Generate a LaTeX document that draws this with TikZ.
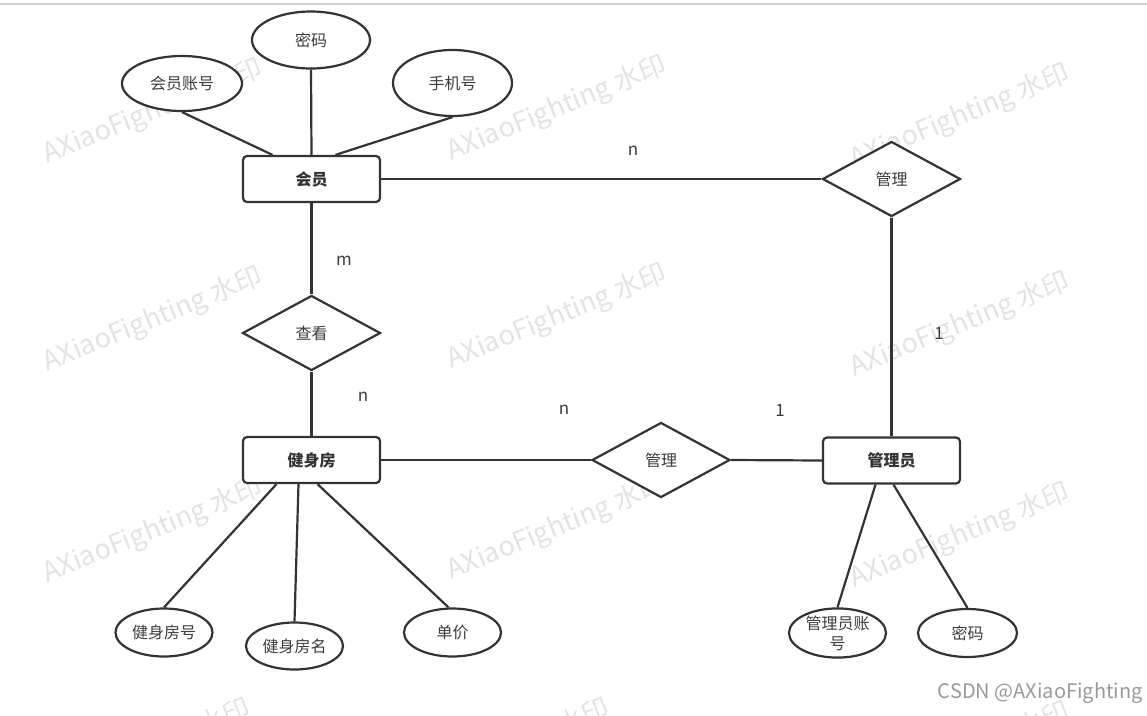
\documentclass[tikz,border=0pt]{standalone}
\usepackage{fontspec}
\newfontfamily\cjk{Noto Sans CJK SC}
\usetikzlibrary{shapes.geometric}
\definecolor{ink}{HTML}{333333}
\definecolor{txt}{HTML}{3C3C3C}
\definecolor{wmc}{HTML}{E3E3E3}
\definecolor{rule}{HTML}{CFCFCF}
\begin{document}
\begin{tikzpicture}[x=1pt,y=-1pt,
  lbl/.style={font=\cjk\fontsize{16pt}{20pt}\selectfont, text=txt},
  entity/.style={lbl, draw=ink, line width=2.2pt, rounded corners=4pt, fill=white,
    minimum width=137pt, minimum height=46pt, inner sep=0pt, font=\cjk\bfseries\fontsize{16pt}{20pt}\selectfont, text=ink},
  attr/.style={lbl, ellipse, draw=ink, line width=2.2pt, fill=white, inner sep=0pt},
  rel/.style={lbl, diamond, draw=ink, line width=2.2pt, fill=white, inner sep=0pt,
    minimum width=138pt, minimum height=75pt},
  card/.style={font=\cjk\fontsize{17pt}{20pt}\selectfont, text=txt, inner sep=0pt},
  link/.style={draw=ink, line width=2.2pt},
  wmark/.style={font=\cjk\fontsize{27pt}{30pt}\selectfont, text=wmc, rotate=22, inner sep=0pt}
]
\useasboundingbox (0,0) rectangle (1147,715);
% watermarks
\begin{scope}
\clip (0,0) rectangle (1147,715);
\foreach \cx/\dy in {153/0, 557/-3, 960/5}{
  \foreach \ry in {112, 320, 531}{
    \node[wmark] at (\cx,\ry+\dy) {AXiaoFighting 水印};
  }
}
\node[wmark] (w41) at (141,752) {AXiaoFighting 水印};
\node[wmark] (w42) at (500,752) {AXiaoFighting 水印};
\node[wmark] (w43) at (960,755) {AXiaoFighting 水印};
\end{scope}
% top rule
\draw[rule, line width=1.5pt] (0,4) -- (1147,4);

% entities
\node[entity] (member) at (311.5,179) {会员};
\node[entity] (gym) at (311.5,460) {健身房};
\node[entity] (admin) at (891.5,460.5) {管理员};

% relationships
\node[rel] (manage1) at (891.5,179) {管理};
\node[rel] (view) at (311.5,333) {查看};
\node[rel] (manage2) at (661,460) {管理};

% attributes
\node[attr, minimum width=118pt, minimum height=57pt] (mpwd) at (311,40) {密码};
\node[attr, minimum width=120pt, minimum height=55pt] (macct) at (182,83.5) {会员账号};
\node[attr, minimum width=119pt, minimum height=66pt] (mphone) at (452.5,83) {手机号};
\node[attr, minimum width=97pt, minimum height=48pt] (gno) at (164,632.5) {健身房号};
\node[attr, minimum width=97pt, minimum height=47pt] (gname) at (294.5,646) {健身房名};
\node[attr, minimum width=97pt, minimum height=48pt] (gprice) at (452.5,632.5) {单价};
\node[attr, minimum width=97pt, minimum height=48pt, align=center,
  font=\cjk\fontsize{16pt}{20pt}\selectfont] (aacct) at (837.5,633) {管理员账\\号};
\node[attr, minimum width=99pt, minimum height=48pt] (apwd) at (967.5,633) {密码};

% connectors
\draw[link] (macct.south) -- ([xshift=-39pt]member.north);
\draw[link] (mpwd.south) -- (member.north);
\draw[link] (mphone.south) -- ([xshift=24pt]member.north);
\draw[link] (member.east) -- (manage1.west);
\draw[link] (manage1.south) -- (admin.north);
\draw[link] (member.south) -- (view.north);
\draw[link] (view.south) -- (gym.north);
\draw[link] (gym.east) -- (manage2.west);
\draw[link] (manage2.east) -- (admin.west);
\draw[link] ([xshift=-35pt]gym.south) -- (gno.north);
\draw[link] ([xshift=-13pt]gym.south) -- (gname.north);
\draw[link] ([xshift=6pt]gym.south) -- ([xshift=-4pt]gprice.north);
\draw[link] ([xshift=-16pt]admin.south) -- (aacct.north);
\draw[link] ([xshift=2pt]admin.south) -- (apwd.north);

% cardinalities
\node[card] (c1) at (633,151) {n};
\node[card] (c2) at (344,261) {m};
\node[card] (c3) at (939,333) {1};
\node[card] (c4) at (363,397) {n};
\node[card] (c5) at (564,410) {n};
\node[card] (c6) at (780,410) {1};

% credit
\node[anchor=east, inner sep=0pt, font=\cjk\fontsize{20pt}{22pt}\selectfont, text=black!40] (credit) at (1143,693) {CSDN @AXiaoFighting};
\end{tikzpicture}
\end{document}
